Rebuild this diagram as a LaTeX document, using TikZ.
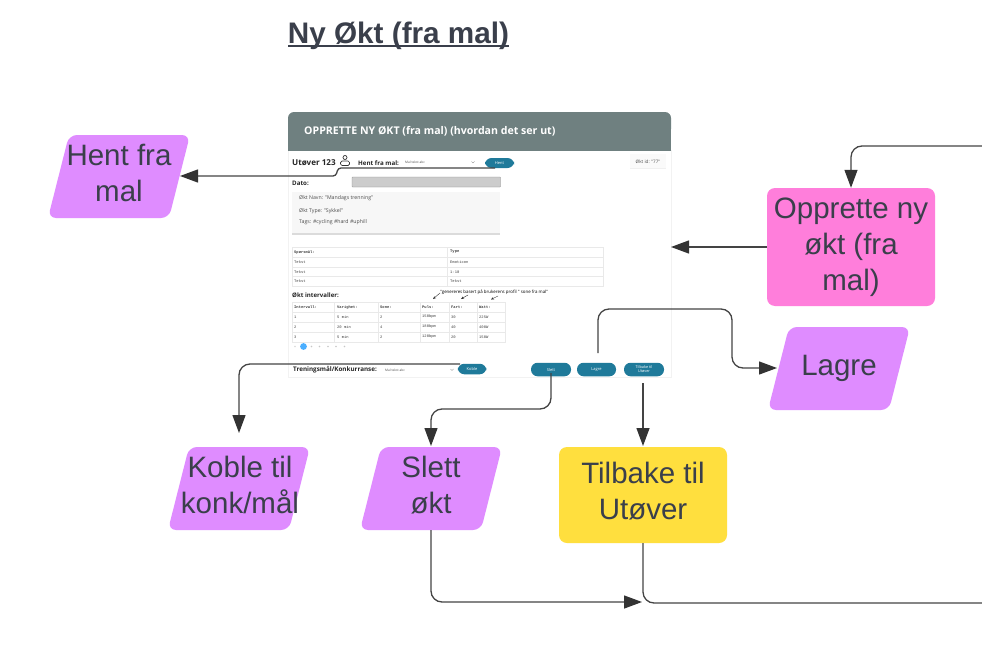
\documentclass[tikz,border=0pt]{standalone}
\usepackage{fontspec}
\setmainfont{Liberation Sans}
\newfontfamily\uifont{Open Sans}
\newfontfamily\cellfont{Liberation Mono}
\usetikzlibrary{arrows.meta}
\definecolor{inkc}{HTML}{3A3F4B}
\definecolor{linec}{HTML}{444444}
\definecolor{tipc}{HTML}{333333}
\definecolor{purplec}{HTML}{DF8CFF}
\definecolor{pinkc}{HTML}{FF7EDB}
\definecolor{yellowc}{HTML}{FFDF3E}
\definecolor{headc}{HTML}{6F8080}
\definecolor{btnc}{HTML}{1F7A9A}
\definecolor{gridc}{HTML}{E9E9E9}
\tikzset{
  x=1pt,y=-1pt,
  shapelabel/.style={text=inkc,font=\fontsize{29.5}{36}\selectfont,align=center,inner sep=0pt},
  para/.style={fill=purplec,rounded corners=8pt},
  conn/.style={draw=linec,line width=1.3pt,rounded corners=11pt},
  arr/.style={conn,-{Triangle[length=18pt,width=13pt,color=tipc]}},
  btn/.style={fill=btnc,text=white,rounded corners=6.5pt,inner sep=0pt,minimum height=13.5pt,font=\uifont\fontsize{4}{4.5}\selectfont,align=center},
  cell/.style={font=\cellfont\fontsize{3.8}{4}\selectfont,text=black!75,anchor=west,inner sep=0pt},
  cellb/.style={cell,font=\cellfont\bfseries\fontsize{3.8}{4}\selectfont},
  ui/.style={font=\uifont\fontsize{5.2}{6}\selectfont,text=black!70,anchor=west,inner sep=0pt},
  uib/.style={font=\uifont\bfseries\fontsize{6.2}{7}\selectfont,text=black!85,anchor=west,inner sep=0pt},
  tick/.style={draw=black!80,line width=.4pt,-{Stealth[length=3pt,width=2.5pt]}},
  grid/.style={draw=gridc,line width=.5pt},
}
\begin{document}
\begin{tikzpicture}
\useasboundingbox (0,0) rectangle (982,661);
\fill[white] (0,0) rectangle (982,661);
% title
\node[text=inkc,font=\bfseries\fontsize{29.7}{34}\selectfont,inner sep=0pt] (title) at (398.5,35.5) {Ny Økt (fra mal)};
\fill[inkc] (288,45.5) rectangle (509,47.5);
% screen card
\fill[white,draw=black!5,line width=.5pt] (288,150) rectangle (671,377);
\fill[headc,rounded corners=6pt] (288,112) rectangle (671,135);
\fill[headc] (288,125) rectangle (671,151);
\node[text=white,font=\uifont\bfseries\fontsize{10.6}{12}\selectfont,anchor=west,inner sep=0pt] (head) at (304,131.5) {OPPRETTE NY ØKT (fra mal) (hvordan det ser ut)};
% top row
\node[anchor=west,inner sep=0pt,font=\uifont\bfseries\fontsize{8.1}{10}\selectfont,text=black!85] (ut) at (292,163) {Utøver 123};
\draw[black!80,line width=.7pt] (345,157.5) circle (2pt);
\draw[black!80,line width=.7pt,rounded corners=1.5pt] (340.5,161) rectangle (349.5,165.5);
\node[uib] (hfm) at (358,163) {Hent fra mal:};
\node[ui,font=\uifont\fontsize{3.2}{4}\selectfont] (sel1) at (405,162.5) {Mal tekst abc};
\draw[black!60,line width=.3pt] (471.5,161.5) -- (473,163) -- (474.5,161.5);
\node[btn,minimum width=29pt,minimum height=10pt] (hent) at (499.5,163) {Hent};
\fill[black!6] (630,154) rectangle (666,169);
\fill[black!2] (630,154) rectangle (666,167.5);
\node[ui,font=\uifont\fontsize{4.6}{5}\selectfont,anchor=center] (id) at (648,162) {Økt id: "77"};
% dato
\node[uib] (dato) at (292,183.5) {Dato:};
\fill[black!20,draw=black!45,line width=.4pt,rounded corners=.7pt] (352,177) rectangle (500.5,187);
% info card
\fill[black!14] (292,192) rectangle (499.5,234.5);
\fill[black!3] (292,192) rectangle (499.5,233);
\node[ui] (n1) at (299,198.5) {Økt Navn: "Mandags trenning"};
\node[ui] (n2) at (299,211) {Økt Type: "Sykkel"};
\node[ui] (n3) at (299,222.5) {Tags: \#cycling \#hard \#uphill};
% question table
\draw[grid] (292,247) rectangle (603,286.5);
\foreach \yy in {257,267,276.5} \draw[grid] (292,\yy) -- (603,\yy);
\draw[grid] (447,247) -- (447,286.5);
\node[cellb] (q0) at (294,252) {Spørsmål:};
\node[cellb] (q1) at (450,252) {Type};
\node[cell] (a1) at (294,262) {Tekst};
\node[cell] (b1) at (450,262) {Emoticon};
\node[cell] (a2) at (294,272) {Tekst};
\node[cell] (b2) at (450,272) {1-10};
\node[cell] (a3) at (294,281.5) {Tekst};
\node[cell] (b3) at (450,281.5) {Tekst};
% intervals
\node[anchor=west,inner sep=0pt,font=\uifont\bfseries\fontsize{6.1}{8}\selectfont,text=black!85] (okt) at (292,295) {Økt intervaller:};
\node[inner sep=0pt,font=\uifont\fontsize{4.4}{5}\selectfont,text=black,anchor=west] (gen) at (440,292) {"genereres basert på brukerens profil " sone fra mal"};
\draw[tick] (440,293) -- (433,299);
\draw[tick] (468,295) -- (461,299);
\draw[tick] (498,296) -- (491,299.5);
\draw[grid] (292,302.5) rectangle (505.5,342);
\foreach \yy in {312.5,322,332} \draw[grid] (292,\yy) -- (505.5,\yy);
\foreach \xx in {334,378,420,449,477} \draw[grid] (\xx,302.5) -- (\xx,342);
\node[cellb] (h1) at (294,307.5) {Intervall:};
\node[cellb] (h2) at (337,307.5) {Varighet:};
\node[cellb] (h3) at (380,307.5) {Sone:};
\node[cellb] (h4) at (422,307.5) {Puls:};
\node[cellb] (h5) at (451,307.5) {Fart:};
\node[cellb] (h6) at (479,307.5) {Watt:};
\node[cell] (r11) at (294,317) {1};
\node[cell] (r12) at (337,317) {5 min};
\node[cell] (r13) at (380,317) {2};
\node[cell] (r14) at (422,317) {150bpm};
\node[cell] (r15) at (451,317) {30};
\node[cell] (r16) at (479,317) {225W};
\node[cell] (r21) at (294,327) {2};
\node[cell] (r22) at (337,327) {20 min};
\node[cell] (r23) at (380,327) {4};
\node[cell] (r24) at (422,327) {180bpm};
\node[cell] (r25) at (451,327) {40};
\node[cell] (r26) at (479,327) {400W};
\node[cell] (r31) at (294,337) {3};
\node[cell] (r32) at (337,337) {5 min};
\node[cell] (r33) at (380,337) {2};
\node[cell] (r34) at (422,337) {120bpm};
\node[cell] (r35) at (451,337) {20};
\node[cell] (r36) at (479,337) {150W};
% pagination
\fill[black!15] (295,346.5) circle (.8pt);
\fill[blue!45!cyan!70!white] (303.5,346.5) circle (3.4pt);
\foreach \xx in {311.5,319.5,328,336,344.5} \fill[black!22] (\xx,346.5) circle (.8pt);
% bottom row
\node[anchor=west,inner sep=0pt,font=\uifont\bfseries\fontsize{6.3}{7}\selectfont,text=black!85] (tk) at (293,370) {Treningsmål/Konkurranse:};
\node[ui,font=\uifont\fontsize{3.2}{4}\selectfont] (sel2) at (385,370) {Mal tekst abc};
\draw[black!60,line width=.3pt] (450.5,369) -- (452,370.5) -- (453.5,369);
\node[btn,minimum width=28.5pt,minimum height=10.5pt] (koble) at (472,369) {Koble};
\node[btn,minimum width=40pt] (slettb) at (551,369.5) {Slett};
\node[btn,minimum width=39pt] (lagreb) at (596.5,369.5) {Lagre};
\node[btn,minimum width=40pt,font=\uifont\fontsize{3.8}{4.2}\selectfont] (tilb) at (644,369.5) {Tilbake til\\Utøver};
% shapes
\fill[para] (69,135) -- (190,135) -- (169,218) -- (48,218) -- cycle;
\node[shapelabel] (hfmal) at (119,173) {Hent fra\\mal};
\fill[para] (189,447) -- (310,447) -- (289,530) -- (168,530) -- cycle;
\node[shapelabel] (koblet) at (240,485) {Koble til\\konk/mål};
\fill[para] (381,447) -- (502,447) -- (481,530) -- (360,530) -- cycle;
\node[shapelabel] (slettt) at (431,485) {Slett\\økt};
\fill[para] (789,327) -- (910,327) -- (889,410) -- (768,410) -- cycle;
\node[shapelabel] (lagret) at (839,368) {Lagre};
\node[fill=pinkc,rounded corners=8pt,minimum width=168pt,minimum height=118pt,inner sep=0pt] (pink) at (851,247) {};
\node[shapelabel] at (851,247) (pinkt) {Opprette ny\\økt (fra\\mal)};
\node[fill=yellowc,rounded corners=8pt,minimum width=168pt,minimum height=96pt,inner sep=0pt] (yellow) at (643,495) {};
\node[shapelabel] at (643,491) (yellowt) {Tilbake til\\Utøver};
% free ends
\coordinate (hentL) at (495,168);
\coordinate (hentT) at (180,176);
\coordinate (eR1) at (982,146);
\coordinate (eL) at (671,247);
\coordinate (lagS) at (598,353);
\coordinate (lagT) at (777,368);
\coordinate (kobS) at (460,364);
\coordinate (kobT) at (239,433);
\coordinate (sleS) at (551,373);
\coordinate (sleT) at (431,446);
\coordinate (tilS) at (643,383);
\coordinate (s2S) at (431,530);
\coordinate (s2T) at (642,602);
\coordinate (eR2) at (982,603);
% connectors
\draw[arr,rounded corners=3pt] (hentL) -- (338,168) -- (336,176) -- (hentT);
\draw[arr] (eR1) -- (851,146) -- (pink.north);
\draw[arr] (pink.west) -- (eL);
\draw[arr] (lagS) -- (598,309) -- (732,309) -- (732,368) -- (lagT);
\draw[arr] (kobS) -- (239,364) -- (kobT);
\draw[arr] (sleS) -- (551,409) -- (431,409) -- (sleT);
\draw[arr] (tilS) -- (643,446);
\draw[arr] (s2S) -- (431,602) -- (s2T);
\draw[conn] (yellow.south) -- (643,603) -- (eR2);
\end{tikzpicture}
\end{document}
